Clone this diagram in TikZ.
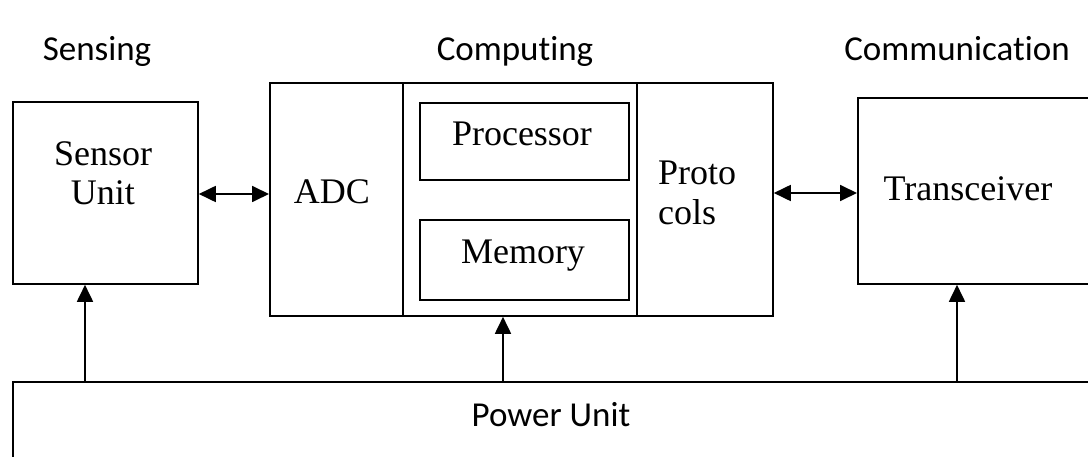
\documentclass[tikz,border=0pt]{standalone}
\usepackage{fontspec}
\setmainfont{Liberation Serif}
\newfontfamily\hdr[Ligatures=CommonOff]{Carlito}
\usetikzlibrary{arrows.meta}
\begin{document}
\begin{tikzpicture}[x=1pt,y=-1pt,
  box/.style={draw, line width=1.8pt, inner sep=0pt, anchor=north west},
  lab/.style={font=\fontsize{36}{39.5}\selectfont, inner sep=0pt, anchor=base},
  hd/.style={font=\hdr\fontsize{35}{40}\selectfont, inner sep=0pt, anchor=base},
  conn/.style={line width=1.8pt, -{Triangle[length=17pt,width=16pt]}},
  both/.style={line width=1.8pt, {Triangle[length=17pt,width=16pt]}-{Triangle[length=17pt,width=16pt]}}]
\useasboundingbox (0,0) rectangle (1088,457);
\clip (0,0) rectangle (1088,457);
% boxes
\node[box, minimum width=185pt, minimum height=182pt] (sensor) at (12,101) {};
\node[box, minimum width=133pt, minimum height=233pt] (adc) at (269,82) {};
\node[box, minimum width=234pt, minimum height=233pt] (mid) at (402,82) {};
\node[box, minimum width=136pt, minimum height=233pt] (proto) at (636,82) {};
\node[box, minimum width=209pt, minimum height=77pt] (proc) at (419,102) {};
\node[box, minimum width=209pt, minimum height=80pt] (mem) at (419,219) {};
\node[box, minimum width=300pt, minimum height=186pt] (trans) at (857,97) {};
\node[box, minimum width=1150pt, minimum height=150pt] (power) at (12,381) {};
% headers
\node[hd] (hsens) at (97,61) {Sensing};
\node[hd] (hcomp) at (515,61) {Computing};
\node[hd] (hcomm) at (957,61) {Communication};
\node[hd] (tpower) at (551,426) {Power Unit};
% labels
\node[lab] (tsens1) at (103,166) {Sensor};
\node[lab] (tsens2) at (103,205) {Unit};
\node[lab] (tadc) at (332,204) {ADC};
\node[lab] (tproc) at (522,146) {Processor};
\node[lab] (tmem) at (523,264) {Memory};
\node[lab, anchor=base west] (tproto1) at (658,185) {Proto};
\node[lab, anchor=base west] (tproto2) at (658,225) {cols};
\node[lab] (ttrans) at (968,201) {Transceiver};
% connectors
\draw[both] (sensor.east |- 0,194) -- (adc.west |- 0,194);
\draw[both] (proto.east |- 0,193) -- (trans.west |- 0,193);
\draw[conn] (power.north -| 85,0) -- (sensor.south -| 85,0);
\draw[conn] (power.north -| 503,0) -- (mid.south -| 503,0);
\draw[conn] (power.north -| 957,0) -- (trans.south -| 957,0);
\end{tikzpicture}
\end{document}
